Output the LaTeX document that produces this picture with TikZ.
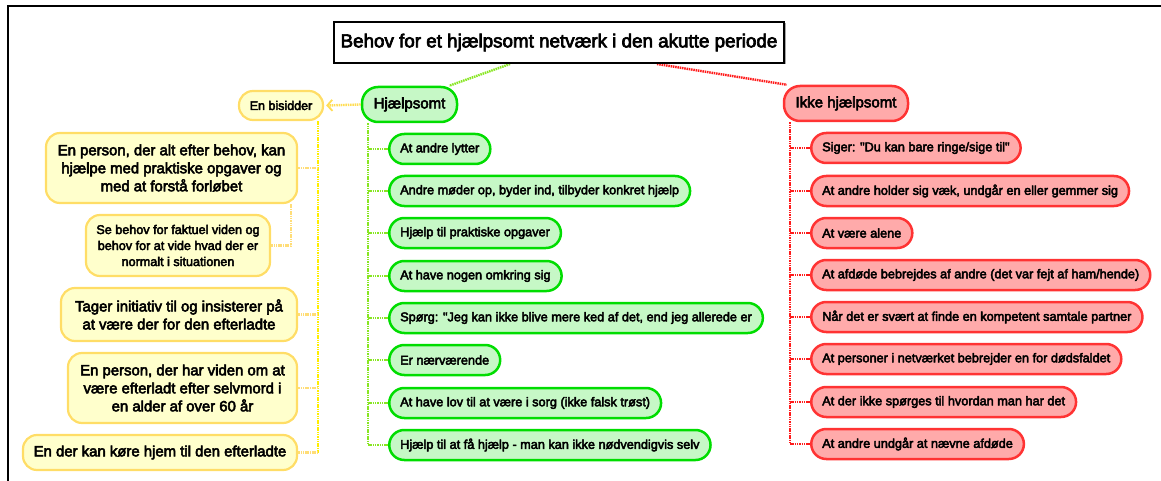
\documentclass[tikz,border=0pt]{standalone}
\usepackage{fontspec}
\setmainfont{Liberation Sans}
\newfontfamily\mf[FakeBold=3.5]{Liberation Sans}
\usetikzlibrary{arrows.meta,backgrounds}
\definecolor{gborder}{HTML}{00DD00}
\definecolor{gfill}{HTML}{C6F8C6}
\definecolor{gline}{HTML}{88E622}
\definecolor{rborder}{HTML}{FF3333}
\definecolor{rfill}{HTML}{FFAAAA}
\definecolor{rline}{HTML}{FF1A1A}
\definecolor{yborder}{HTML}{FFDD66}
\definecolor{yfill}{HTML}{FFFFCC}
\definecolor{ylinemain}{HTML}{FFEE00}
\definecolor{ylinesoft}{HTML}{FFDD77}
\definecolor{ylinegold}{HTML}{FFDD55}
\tikzset{
  fs/.style 2 args={font=\mf\fontsize{#1}{#2}\selectfont},
  pill/.style={line width=2.5pt, rounded corners=15pt, minimum height=30pt, inner xsep=11pt, inner ysep=2pt, fs={12.7}{15.5}, text=black},
  gchild/.style={pill, draw=gborder, fill=gfill, anchor=west},
  rchild/.style={pill, draw=rborder, fill=rfill, anchor=west},
  ybox/.style={draw=yborder, fill=yfill, line width=2.2pt, rounded corners=14pt, align=center, inner sep=0pt, text=black},
  dots/.style={line width=2.4pt, dash pattern=on 1.5pt off 0.8pt},
  gconn/.style={dots, draw=gline},
  rconn/.style={dots, draw=rline},
  yconn/.style={dots, draw=ylinemain},
  ysoft/.style={dots, draw=ylinesoft},
}
\begin{document}
\begin{tikzpicture}[x=1pt,y=-1pt]
\useasboundingbox (0,0) rectangle (1161,481);
\draw[line width=2pt] (8,481) -- (8,6) -- (1161,6);

% title
\fill[gray!70] (335.5,23.5) rectangle (785.5,64.5);
\node[draw=black, fill=white, line width=2pt, minimum width=450pt, minimum height=41pt, inner sep=0pt, fs={18.8}{22}] (title) at (559,42.5) {Behov for et hjælpsomt netværk i den akutte periode};

% main branches
\node[draw=gborder, fill=gfill, line width=2.5pt, rounded corners=16pt, minimum width=95pt, minimum height=35pt, inner sep=0pt, fs={15}{18}] (hj) at (409.5,104.5) {Hjælpsomt};
\node[draw=rborder, fill=rfill, line width=2.5pt, rounded corners=16pt, minimum width=124pt, minimum height=35pt, inner sep=0pt, fs={15}{18}] (ik) at (846,103.5) {Ikke hjælpsomt};

% green children
\node[gchild] (g1) at (388,149) {At andre lytter};
\node[gchild] (g2) at (388,191) {Andre møder op, byder ind, tilbyder konkret hjælp};
\node[gchild] (g3) at (388,233) {Hjælp til praktiske opgaver};
\node[gchild] (g4) at (388,276) {At have nogen omkring sig};
\node[gchild] (g5) at (388,318) {Spørg: "Jeg kan ikke blive mere ked af det, end jeg allerede er};
\node[gchild] (g6) at (388,360) {Er nærværende};
\node[gchild] (g7) at (388,403) {At have lov til at være i sorg (ikke falsk trøst)};
\node[gchild] (g8) at (388,445) {Hjælp til at få hjælp - man kan ikke nødvendigvis selv};

% red children
\node[rchild] (r1) at (810,148) {Siger: "Du kan bare ringe/sige til"};
\node[rchild] (r2) at (810,191) {At andre holder sig væk, undgår en eller gemmer sig};
\node[rchild] (r3) at (810,233) {At være alene};
\node[rchild] (r4) at (810,275) {At afdøde bebrejdes af andre (det var fejt af ham/hende)};
\node[rchild] (r5) at (810,317) {Når det er svært at finde en kompetent samtale partner};
\node[rchild] (r6) at (810,359) {At personer i netværket bebrejder en for dødsfaldet};
\node[rchild] (r7) at (810,402) {At der ikke spørges til hvordan man har det};
\node[rchild] (r8) at (810,444) {At andre undgår at nævne afdøde};

% yellow
\node[ybox, minimum width=84pt, minimum height=29pt, fs={12.5}{15}] (bis) at (281,105.5) {En bisidder};
\node[ybox, minimum width=251pt, minimum height=70pt, fs={14.9}{18}] (y1) at (171.5,168) {En person, der alt efter behov, kan\\hjælpe med praktiske opgaver og\\med at forstå forløbet};
\node[ybox, minimum width=184pt, minimum height=61pt, fs={12.6}{16}] (y2) at (178,245.5) {Se behov for faktuel viden og\\behov for at vide hvad der er\\normalt i situationen};
\node[ybox, minimum width=236pt, minimum height=53pt, fs={14.9}{18}] (y3) at (179,314.5) {Tager initiativ til og insisterer på\\at være der for den efterladte};
\node[ybox, minimum width=229pt, minimum height=70pt, fs={14.9}{18}] (y4) at (182.5,388) {En person, der har viden om at\\være efterladt efter selvmord i\\en alder af over 60 år};
\node[ybox, minimum width=274pt, minimum height=35pt, fs={14.9}{18}] (y5) at (160,452.5) {En der kan køre hjem til den efterladte};

\begin{scope}[on background layer]
  \draw[gconn] ([xshift=-49pt]title.south) -- ([xshift=-9pt]hj.north east);
  \draw[rconn] ([xshift=98pt]title.south) -- ([xshift=4pt]ik.north west);
  % green tree
  \draw[gconn] ([xshift=-20pt]g1.west |- hj.south) -- ([xshift=-20pt]g8.west);
  \foreach \n in {g1,g2,g3,g4,g5,g6,g7,g8}
    \draw[gconn] ([xshift=-20pt]\n.west) -- (\n.west);
  % red tree
  \draw[rconn] ([xshift=-20pt]r1.west |- ik.south) -- ([xshift=-20pt]r8.west);
  \foreach \n in {r1,r2,r3,r4,r5,r6,r7,r8}
    \draw[rconn] ([xshift=-20pt]\n.west) -- (\n.west);
  % yellow tree
  \draw[yconn] ([xshift=20pt]y1.east |- bis.south) -- ([xshift=20pt]y5.east);
  \foreach \n in {y1,y3,y4,y5}
    \draw[ysoft] ([xshift=20pt]\n.east) -- (\n.east);
  \draw[ysoft] ([xshift=-7pt]y1.south east) -- ([xshift=-7pt]y1.east |- y2.east) -- (y2.east);
\end{scope}
\draw[dots, draw=ylinegold, -{Straight Barb[length=5pt,width=11pt,line width=1.8pt]}] (hj.west) -- ([xshift=2pt]bis.east);
\end{tikzpicture}
\end{document}
